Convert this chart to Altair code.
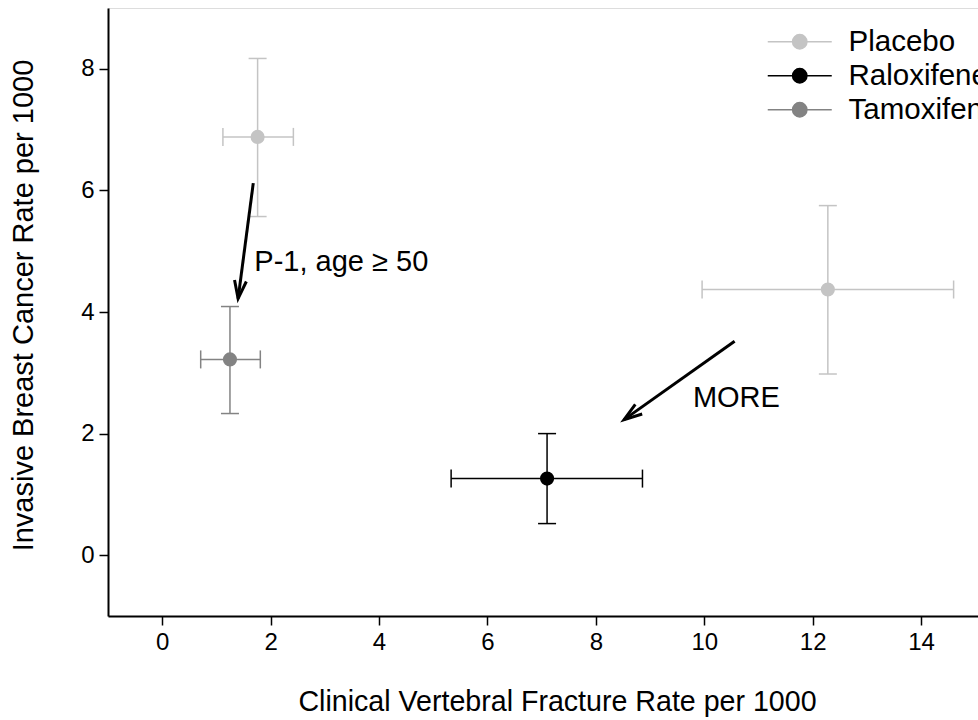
import math

import altair as alt
import pandas as pd

# Trial arms: mean rate with confidence limits on both axes
trial = ["P-1", "MORE", "MORE", "P-1"]
group = ["Placebo", "Placebo", "Raloxifene", "Tamoxifen"]
fracture = [1.76, 12.28, 7.10, 1.25]
fracture_lo = [1.12, 9.96, 5.33, 0.71]
fracture_hi = [2.42, 14.60, 8.86, 1.81]
cancer = [6.88, 4.37, 1.26, 3.22]
cancer_lo = [5.57, 2.98, 0.52, 2.33]
cancer_hi = [8.17, 5.75, 2.00, 4.09]

legend_groups = ["Placebo", "Raloxifene", "Tamoxifen"]
group_colors = ["#c4c4c4", "#000000", "#838383"]

# Annotation arrows (tail -> head) and their captions
arrow_x = [1.68, 10.56]
arrow_y = [6.12, 3.52]
arrow_x2 = [1.40, 8.52]
arrow_y2 = [4.22, 2.23]
note_text = ["P-1, age \u2265 50", "MORE"]
note_x = [1.70, 9.79]
note_y = [4.83, 2.58]

x_ticks = [0, 2, 4, 6, 8, 10, 12, 14]
y_ticks = [0, 2, 4, 6, 8]

X_DOMAIN = [-1, 15.05]
Y_DOMAIN = [-1, 9]
W, H = 870, 608
FONT = "Liberation Sans"

arms = pd.DataFrame({
    "trial": trial, "group": group,
    "fracture": fracture, "fracture_lo": fracture_lo, "fracture_hi": fracture_hi,
    "cancer": cancer, "cancer_lo": cancer_lo, "cancer_hi": cancer_hi,
})

# arrowhead rotation follows the on-screen direction of each shaft
sx = W / (X_DOMAIN[1] - X_DOMAIN[0])
sy = H / (Y_DOMAIN[1] - Y_DOMAIN[0])
head_angle = []
for x1, y1, x2, y2 in zip(arrow_x, arrow_y, arrow_x2, arrow_y2):
    dx = (x2 - x1) * sx
    dy = -(y2 - y1) * sy
    head_angle.append(math.degrees(math.atan2(dx, -dy)) % 360)

arrows = pd.DataFrame({"x": arrow_x, "y": arrow_y, "x2": arrow_x2, "y2": arrow_y2,
                       "angle": head_angle})
notes = pd.DataFrame({"text": note_text, "x": note_x, "y": note_y})

x_scale = alt.Scale(domain=X_DOMAIN, nice=False, zero=False)
y_scale = alt.Scale(domain=Y_DOMAIN, nice=False, zero=False)
x_axis = alt.Axis(
    title="Clinical Vertebral Fracture Rate per 1000", values=x_ticks, grid=False,
    domainColor="black", domainWidth=2, tickColor="black", tickWidth=1.5, tickSize=9,
    labelFontSize=24, labelColor="black", labelPadding=5, labelFlush=False,
    titleFontSize=28.6, titleFontWeight="normal", titleColor="black",
    titleX=449, titleY=94, titleBaseline="alphabetic",
)
y_axis = alt.Axis(
    title="Invasive Breast Cancer Rate per 1000", values=y_ticks, grid=False,
    domainColor="black", domainWidth=2, tickColor="black", tickWidth=1.5, tickSize=9,
    labelFontSize=24, labelColor="black", labelPadding=5, labelFlush=False,
    titleFontSize=29, titleFontWeight="normal", titleColor="black",
    titleX=-76, titleY=297, titleBaseline="alphabetic",
)

# One legend for the bar stroke and the marker fill: each entry is a line
# through a dot, stroked and filled in the group colour.
color_scale = alt.Scale(domain=legend_groups, range=group_colors)
group_legend = alt.Legend(
    title=None, orient="none", legendX=677, legendY=19, padding=0,
    symbolType="M-4,0L4,0M-0.9,0A0.9,0.9,0,1,1,0.9,0A0.9,0.9,0,1,1,-0.9,0Z",
    symbolSize=256, symbolOpacity=1, symbolStrokeWidth=1.5,
    labelFontSize=29.5, labelFont=FONT, labelColor="black", labelOffset=34,
    rowPadding=3,
)

base = alt.Chart(arms)
bar_stroke = alt.Stroke("group:N", scale=color_scale, legend=group_legend)
cap_color = alt.Color("group:N", scale=color_scale, legend=None)

v_bars = base.mark_rule(strokeWidth=1.5).encode(
    x=alt.X("fracture:Q", scale=x_scale, axis=x_axis),
    y=alt.Y("cancer_lo:Q", scale=y_scale, axis=y_axis),
    y2="cancer_hi:Q",
    stroke=bar_stroke,
)
h_bars = base.mark_rule(strokeWidth=1.5).encode(
    x=alt.X("fracture_lo:Q", scale=x_scale, axis=x_axis),
    x2="fracture_hi:Q",
    y=alt.Y("cancer:Q", scale=y_scale, axis=y_axis),
    stroke=bar_stroke,
)
v_caps = base.transform_fold(["cancer_lo", "cancer_hi"], as_=["end", "cap_y"]).mark_tick(
    orient="horizontal", size=18, thickness=1.5, opacity=1
).encode(
    x=alt.X("fracture:Q", scale=x_scale, axis=x_axis),
    y=alt.Y("cap_y:Q", scale=y_scale, axis=y_axis),
    color=cap_color,
)
h_caps = base.transform_fold(["fracture_lo", "fracture_hi"], as_=["end", "cap_x"]).mark_tick(
    orient="vertical", size=18, thickness=1.5, opacity=1
).encode(
    x=alt.X("cap_x:Q", scale=x_scale, axis=x_axis),
    y=alt.Y("cancer:Q", scale=y_scale, axis=y_axis),
    color=cap_color,
)
points = base.mark_point(filled=True, shape="circle", size=200, opacity=1,
                         strokeWidth=0).encode(
    x=alt.X("fracture:Q", scale=x_scale, axis=x_axis),
    y=alt.Y("cancer:Q", scale=y_scale, axis=y_axis),
    fill=alt.Fill("group:N", scale=color_scale, legend=group_legend),
)

shafts = alt.Chart(arrows).mark_rule(strokeWidth=3, color="black").encode(
    x=alt.X("x:Q", scale=x_scale, axis=x_axis),
    y=alt.Y("y:Q", scale=y_scale, axis=y_axis),
    x2="x2:Q", y2="y2:Q",
)
heads = alt.Chart(arrows).mark_point(
    shape="M-0.33,1L0,0L0.33,1", size=1300, filled=False, color="black",
    strokeWidth=3, opacity=1, strokeJoin="miter",
).encode(
    x=alt.X("x2:Q", scale=x_scale, axis=x_axis),
    y=alt.Y("y2:Q", scale=y_scale, axis=y_axis),
    angle=alt.Angle("angle:Q", scale=None),
)
labels = alt.Chart(notes).mark_text(
    align="left", baseline="middle", fontSize=29, font=FONT, color="black"
).encode(
    x=alt.X("x:Q", scale=x_scale, axis=x_axis),
    y=alt.Y("y:Q", scale=y_scale, axis=y_axis),
    text="text:N",
)

chart = alt.layer(v_bars, h_bars, v_caps, h_caps, points, shafts, heads, labels).properties(
    width=W, height=H,
    autosize=alt.AutoSizeParams(type="none"),
    padding={"left": 108, "top": 8, "right": 0, "bottom": 104},
).configure_view(stroke=None).configure(font=FONT, background="white")

chart.save("out.html", embed_options={"renderer": "svg", "actions": False})
